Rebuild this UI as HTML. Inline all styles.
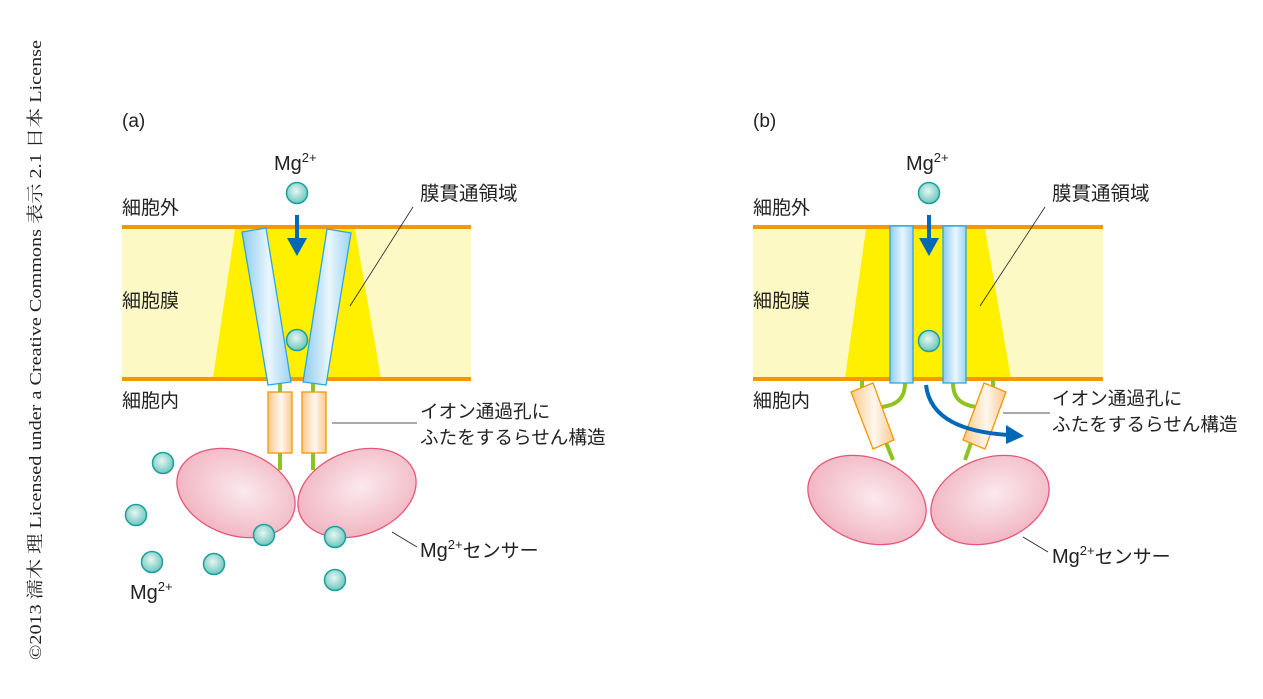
<!DOCTYPE html>
<html><head><meta charset="utf-8"><style>
html,body{margin:0;padding:0;background:#fff}
svg{display:block}
text{font-family:"Liberation Sans","Noto Sans CJK JP",sans-serif;fill:#222}
</style></head><body>
<svg width="1263" height="699" viewBox="0 0 1263 699" xmlns="http://www.w3.org/2000/svg">
<defs>
<linearGradient id="hel" x1="0" x2="1" y1="0" y2="0">
<stop offset="0" stop-color="#8ccbf0"/><stop offset="0.55" stop-color="#eaf6fd"/><stop offset="1" stop-color="#9dd3f3"/></linearGradient>
<linearGradient id="cyl" x1="0" x2="1" y1="0" y2="0">
<stop offset="0" stop-color="#f9c98e"/><stop offset="0.55" stop-color="#fff7ee"/><stop offset="1" stop-color="#f9c98e"/></linearGradient>
<radialGradient id="ell" cx="0.55" cy="0.45" r="0.6">
<stop offset="0" stop-color="#fbe9ee"/><stop offset="1" stop-color="#f1b3bf"/></radialGradient>
<radialGradient id="ball" cx="0.45" cy="0.4" r="0.6">
<stop offset="0" stop-color="#e6f7f3"/><stop offset="1" stop-color="#6cc5bd"/></radialGradient>
<g id="b"><circle r="10.5" fill="url(#ball)" stroke="#1aa09b" stroke-width="1.5"/></g>
</defs>

<text transform="translate(41,660) rotate(-90)" style="font-family:'Liberation Serif','Noto Serif CJK SC',serif" font-size="17" textLength="620" lengthAdjust="spacingAndGlyphs">©2013 濡木 理 Licensed under a Creative Commons 表示 2.1 日本 License</text>

<!-- Panel A -->
<text x="122" y="127" font-size="19">(a)</text>
<rect x="122" y="227" width="349" height="152" fill="#fdf9c4"/>
<polygon points="235,229 355,229 381,378 213,378" fill="#fff000"/>
<rect x="122" y="225" width="349" height="4" fill="#f39800"/>
<rect x="122" y="377" width="349" height="4" fill="#f39800"/>
<line x1="280" y1="383" x2="280" y2="470" stroke="#8fc31f" stroke-width="4"/>
<line x1="313" y1="383" x2="313" y2="470" stroke="#8fc31f" stroke-width="4"/>
<polygon points="242,232 266,228 291,382 268,385" fill="url(#hel)" stroke="#2ea7e0" stroke-width="1.3"/>
<polygon points="327,229 351,233 326,385 303,382" fill="url(#hel)" stroke="#2ea7e0" stroke-width="1.3"/>
<rect x="268" y="392" width="24" height="61" fill="url(#cyl)" stroke="#f39800" stroke-width="1.3"/>
<rect x="302" y="392" width="24" height="61" fill="url(#cyl)" stroke="#f39800" stroke-width="1.3"/>
<ellipse cx="236" cy="493" rx="61" ry="42" transform="rotate(20 236 493)" fill="url(#ell)" stroke="#e4577a" stroke-width="1.3"/>
<ellipse cx="357" cy="493" rx="61" ry="42" transform="rotate(-20 357 493)" fill="url(#ell)" stroke="#e4577a" stroke-width="1.3"/>
<use href="#b" x="297" y="193"/><use href="#b" x="297" y="340"/>
<use href="#b" x="163" y="463"/><use href="#b" x="136" y="515"/><use href="#b" x="152" y="562"/>
<use href="#b" x="214" y="564"/><use href="#b" x="264" y="535"/><use href="#b" x="335" y="537"/><use href="#b" x="335" y="580"/>
<line x1="297" y1="215" x2="297" y2="240" stroke="#0068b7" stroke-width="4"/>
<polygon points="287,238 307,238 297,256" fill="#0068b7"/>
<text x="274" y="170" font-size="20">Mg<tspan font-size="13" dy="-8">2+</tspan></text>
<text x="130" y="599" font-size="20">Mg<tspan font-size="13" dy="-8">2+</tspan></text>
<text x="122" y="214" font-size="19">細胞外</text>
<text x="122" y="307" font-size="19">細胞膜</text>
<text x="122" y="407" font-size="19">細胞内</text>
<text x="420" y="200" font-size="19.5">膜貫通領域</text>
<line x1="413" y1="207" x2="350" y2="306" stroke="#222" stroke-width="0.8"/>
<text x="420" y="418" font-size="18.6">イオン通過孔に</text>
<text x="420" y="444" font-size="18.6">ふたをするらせん構造</text>
<line x1="332" y1="423" x2="417" y2="423" stroke="#555" stroke-width="0.9"/>
<text x="420" y="557" font-size="20">Mg<tspan font-size="13" dy="-8">2+</tspan><tspan dy="8" font-size="19">センサー</tspan></text>
<line x1="392" y1="532" x2="417" y2="547" stroke="#222" stroke-width="0.8"/>

<!-- Panel B -->
<text x="753" y="127" font-size="19">(b)</text>
<rect x="753" y="227" width="350" height="152" fill="#fdf9c4"/>
<polygon points="866,229 985,229 1011,378 845,378" fill="#fff000"/>
<rect x="753" y="225" width="350" height="4" fill="#f39800"/>
<rect x="753" y="377" width="350" height="4" fill="#f39800"/>
<path d="M862,380 L862,392" stroke="#8fc31f" stroke-width="4" fill="none"/>
<path d="M905,383 C905,400 895,405 882,407" stroke="#8fc31f" stroke-width="4" fill="none"/>
<path d="M953,383 C953,400 963,405 976,407" stroke="#8fc31f" stroke-width="4" fill="none"/>
<path d="M993,380 L993,392" stroke="#8fc31f" stroke-width="4" fill="none"/>
<path d="M885,440 L893,460" stroke="#8fc31f" stroke-width="4" fill="none"/>
<path d="M972,440 L965,460" stroke="#8fc31f" stroke-width="4" fill="none"/>
<polygon points="851,392 873,383 894,440 873,449" fill="url(#cyl)" stroke="#f39800" stroke-width="1.3"/>
<polygon points="984,383 1006,392 985,449 963,440" fill="url(#cyl)" stroke="#f39800" stroke-width="1.3"/>
<rect x="890" y="226" width="23" height="157" fill="url(#hel)" stroke="#2ea7e0" stroke-width="1.3"/>
<rect x="943" y="226" width="23" height="157" fill="url(#hel)" stroke="#2ea7e0" stroke-width="1.3"/>
<ellipse cx="867" cy="500" rx="61" ry="42" transform="rotate(20 867 500)" fill="url(#ell)" stroke="#e4577a" stroke-width="1.3"/>
<ellipse cx="990" cy="500" rx="61" ry="42" transform="rotate(-20 990 500)" fill="url(#ell)" stroke="#e4577a" stroke-width="1.3"/>
<use href="#b" x="929" y="193"/><use href="#b" x="929" y="341"/>
<line x1="929" y1="215" x2="929" y2="240" stroke="#0068b7" stroke-width="4"/>
<polygon points="919,238 939,238 929,256" fill="#0068b7"/>
<path d="M926,385 C930,420 965,432 1008,435" stroke="#0068b7" stroke-width="4" fill="none"/>
<polygon points="1006,425 1024,436 1006,444" fill="#0068b7"/>
<text x="906" y="170" font-size="20">Mg<tspan font-size="13" dy="-8">2+</tspan></text>
<text x="753" y="214" font-size="19">細胞外</text>
<text x="753" y="307" font-size="19">細胞膜</text>
<text x="753" y="407" font-size="19">細胞内</text>
<text x="1052" y="200" font-size="19.5">膜貫通領域</text>
<line x1="1045" y1="207" x2="980" y2="306" stroke="#222" stroke-width="0.8"/>
<text x="1052" y="405" font-size="18.6">イオン通過孔に</text>
<text x="1052" y="431" font-size="18.6">ふたをするらせん構造</text>
<line x1="1003" y1="413" x2="1050" y2="413" stroke="#555" stroke-width="0.9"/>
<text x="1052" y="563" font-size="20">Mg<tspan font-size="13" dy="-8">2+</tspan><tspan dy="8" font-size="19">センサー</tspan></text>
<line x1="1023" y1="537" x2="1048" y2="552" stroke="#222" stroke-width="0.8"/>
</svg>
</body></html>
